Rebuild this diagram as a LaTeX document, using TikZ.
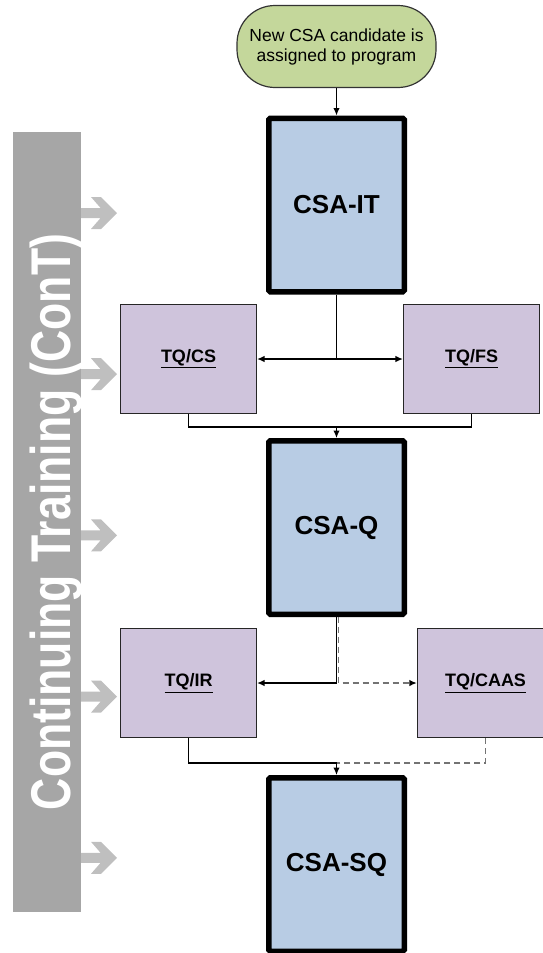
\documentclass[tikz,border=0pt]{standalone}
\usepackage{fontspec}
\setmainfont{Liberation Sans}
\usetikzlibrary{calc,arrows.meta}

\definecolor{csablue}{RGB}{184,204,228}
\definecolor{tqlilac}{RGB}{207,196,220}
\definecolor{startgreen}{RGB}{196,215,155}
\definecolor{bargray}{RGB}{166,166,166}
\definecolor{chevgray}{RGB}{191,191,191}

\tikzset{
  csabox/.style={draw=black, line width=5.5pt, fill=csablue, rounded corners=1.5pt,
    minimum width=135.5pt, minimum height=173.5pt, inner sep=0pt,
    font=\fontsize{26}{30}\selectfont\bfseries},
  tqbox/.style={draw=black!85, line width=1.2pt, fill=tqlilac,
    minimum width=136pt, minimum height=109pt, inner sep=0pt,
    font=\fontsize{18}{21}\selectfont\bfseries},
  startnode/.style={draw=black!80, line width=1.2pt, fill=startgreen, rounded corners=38pt,
    minimum width=199pt, minimum height=82pt, align=center,
    font=\fontsize{17.5}{20}\selectfont},
  link/.style={line width=1.3pt},
  flow/.style={link, -{Latex[length=7.5pt,width=6.5pt]}},
  optflow/.style={line width=1.5pt, draw=black!55, dash pattern=on 6pt off 4pt},
}

\begin{document}
\begin{tikzpicture}[x=1pt, y=-1pt]  % 像素坐标, y 向下
                \useasboundingbox (0,0) rectangle (543,953);

                % 左侧灰色竖条与文字
                \fill[bargray] (13,132) rectangle (81,912);
                \node[rotate=90, anchor=base, text=white, inner sep=0pt,
                      font=\fontsize{56}{64}\selectfont\bfseries] (contlabel) at (70,522)
                      {\scalebox{0.795}[1]{Continuing Training (ConT)}};

                % 灰色箭头 (5 个)
                \foreach \k in {0,...,4} {
                    \pgfmathsetmacro{\cy}{213 + 161.2*\k}
                    \fill[chevgray] (81,\cy-5) -- (100.6,\cy-5) -- (91,\cy-16) -- (101,\cy-16)
                        -- (117,\cy) -- (101,\cy+16) -- (91,\cy+16) -- (100.6,\cy+5)
                        -- (81,\cy+5) -- cycle;
                }

                % 主流程节点
                \node[startnode] (start) at (336.5,46.5) {New CSA candidate is\\assigned to program};
                \node[csabox] (it) at (336.5,205) {CSA-IT};
                \node[tqbox] (cs) at (188.5,359) {\underline{TQ/CS}};
                \node[tqbox] (fs) at (471.5,359) {\underline{TQ/FS}};
                \node[csabox] (q) at (336.5,527.5) {CSA-Q};
                \node[tqbox] (ir) at (188.5,683) {\underline{TQ/IR}};
                \node[tqbox] (caas) at (485.5,683) {\underline{TQ/CAAS}};
                \node[csabox] (sq) at (336.5,864.5) {CSA-SQ};

                % 分叉点与汇合点
                \coordinate (split1) at (it.south |- cs.east);
                \coordinate (merge1) at ($(q.north)+(0,-11)$);
                \coordinate (split2) at (q.south |- ir.east);
                \coordinate (merge2) at ($(sq.north)+(0,-12)$);

                % 虚线 (可选路径)
                \draw[optflow, -{Latex[length=7.5pt,width=6.5pt,color=black]}] ([xshift=2pt]q.south) |- (caas.west);
                \draw[optflow] (caas.south) |- (merge2);

                % 实线连接
                \draw[flow] (start) -- (it);
                \draw[link] (it.south) -- (split1);
                \draw[flow] (split1) -- (cs.east);
                \draw[flow] (split1) -- (fs.west);
                \draw[flow] (cs.south) |- (merge1) -- (q.north);
                \draw[link] (fs.south) |- (merge1);
                \draw[link] (q.south) -- (split2);
                \draw[flow] (split2) -- (ir.east);
                \draw[flow] (ir.south) |- (merge2) -- (sq.north);
            \end{tikzpicture}
\end{document}
